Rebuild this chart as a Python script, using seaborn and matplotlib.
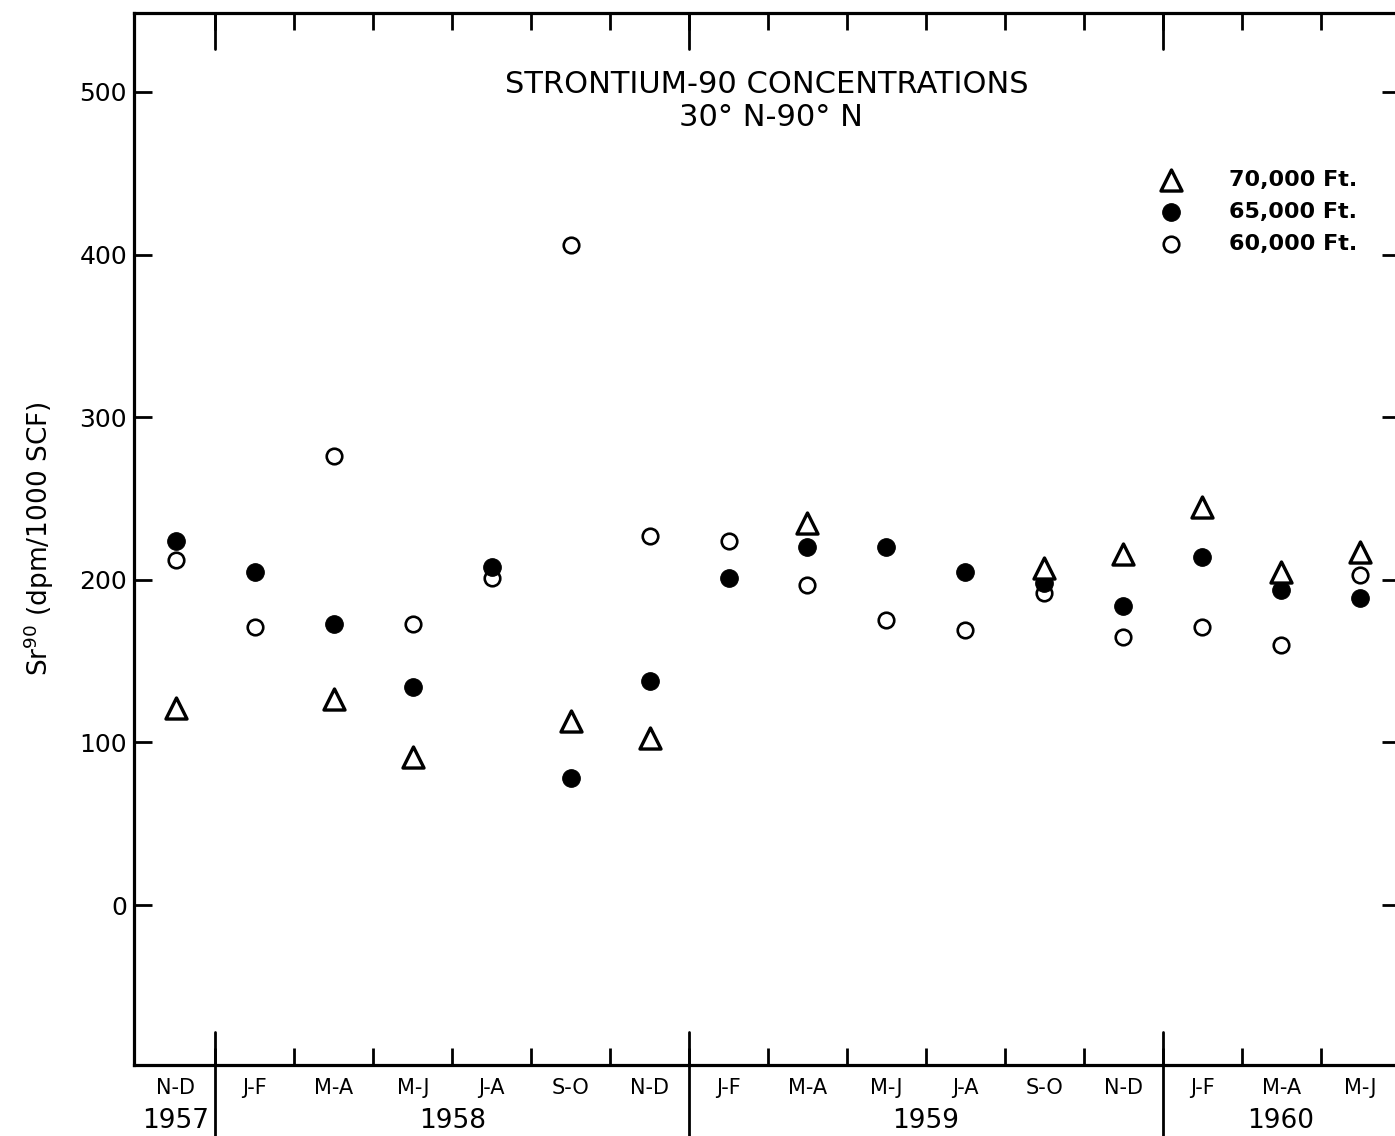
import numpy as np
import matplotlib
matplotlib.use("Agg")
import matplotlib.pyplot as plt
import seaborn as sns

periods = ["N-D", "J-F", "M-A", "M-J", "J-A", "S-O", "N-D",
           "J-F", "M-A", "M-J", "J-A", "S-O", "N-D",
           "J-F", "M-A", "M-J"]
years = ["1957", "1958", "1959", "1960"]
year_first = [0, 1, 7, 13]
year_last = [0, 6, 12, 15]

nan = np.nan
ft70 = [121, nan, 127, 91, nan, 113, 103, nan, 235, nan, nan, 207, 216, 245, 205, 217]
ft65 = [224, 205, 173, 134, 208, 78, 138, 201, 220, 220, 205, 198, 184, 214, 194, 189]
ft60 = [212, 171, 276, 173, 201, 406, 227, 224, 197, 175, 169, 192, 165, 171, 160, 203]
yticks = [0, 100, 200, 300, 400, 500]

sns.set_style("white")
plt.rcParams['font.family'] = ['DejaVu Sans']
plt.rcParams['text.color'] = 'black'
plt.rcParams['axes.labelcolor'] = 'black'
plt.rcParams['xtick.color'] = 'black'
plt.rcParams['ytick.color'] = 'black'

W, H = 1395, 1136
fig = plt.figure(figsize=(W / 100, H / 100), dpi=100)
ax = fig.add_axes([134 / W, 71 / H, 1265.5 / W, 1052 / H])

x = np.arange(len(periods))
sns.scatterplot(x=x, y=ft60, marker='o', s=125, facecolor='white',
                edgecolor='black', linewidth=1.9, label='60,000 Ft.', ax=ax, zorder=3)
sns.scatterplot(x=x, y=ft65, marker='o', s=160, facecolor='black',
                edgecolor='black', linewidth=0.8, label='65,000 Ft.', ax=ax, zorder=4)
sns.scatterplot(x=x, y=ft70, marker='^', s=230, facecolor='white',
                edgecolor='black', linewidth=2.4, label='70,000 Ft.', ax=ax, zorder=5)

ax.set_xlim(-0.532, 15.5)
ax.set_ylim(-98.3, 548.5)

# axes frame
for side in ['left', 'bottom', 'top']:
    ax.spines[side].set_linewidth(2.3)
    ax.spines[side].set_color('black')
ax.spines['right'].set_visible(False)

# x ticks: category labels + boundary ticks
ax.set_xticks(x)
ax.set_xticklabels(periods, fontsize=15)
ax.tick_params(axis='x', which='major', length=0, pad=9, colors='black')
ax.set_xticks(np.arange(0.5, len(periods) - 1, 1), minor=True)
ax.tick_params(axis='x', which='minor', direction='in', top=True, bottom=True,
               length=12, width=2, color='black')

# y ticks
ax.set_yticks(yticks)
ax.tick_params(axis='y', which='major', direction='in', left=True, right=True,
               length=13, width=2, labelsize=18, pad=5, color='black')

# year separators and labels
for i, (f, l, yr) in enumerate(zip(year_first, year_last, years)):
    if i > 0:
        b = f - 0.5
        ax.axvline(b, ymin=-0.08, ymax=0.031, color='black', lw=2, clip_on=False)
        ax.axvline(b, ymin=1 - 0.034, ymax=1, color='black', lw=2, clip_on=False)
    ax.text((f + l) / 2, -0.053, yr, transform=ax.get_xaxis_transform(),
            ha='center', va='center', fontsize=19)

# title
ax.text(0.5, 0.9316, "STRONTIUM-90 CONCENTRATIONS", transform=ax.transAxes,
        ha='center', va='center', fontsize=22)
ax.text(0.503, 0.901, "30° N-90° N", transform=ax.transAxes,
        ha='center', va='center', fontsize=22)

# y label
ax.set_ylabel("Sr$^{90}$ (dpm/1000 SCF)", fontsize=19)
ax.yaxis.set_label_coords(-0.0616, 0.5)
ax.set_xlabel("")

# legend
handles, labels = ax.get_legend_handles_labels()
ax.legend(handles[::-1], labels[::-1], loc='upper left', bbox_to_anchor=(0.802, 0.851),
          frameon=False, borderpad=0, borderaxespad=0, handlelength=2,
          handletextpad=1.6, labelspacing=0.55, scatterpoints=1,
          prop={'size': 16, 'weight': 'bold'})

fig.savefig("out.png", dpi=100)
